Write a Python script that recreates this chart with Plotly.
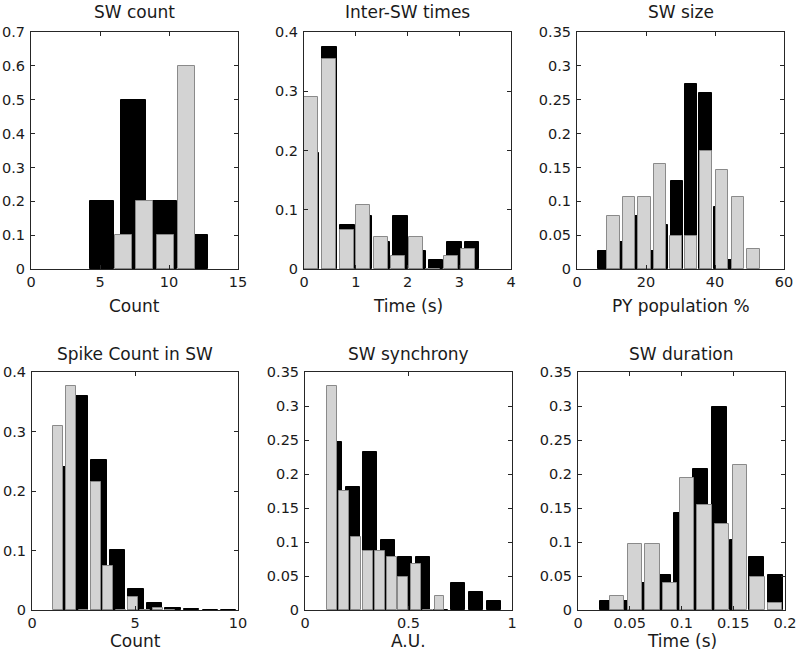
import plotly.graph_objects as go

# ---------------- data ----------------
# Panel 1: SW count
count_black_x = [5.15, 7.4, 9.65, 11.9]
count_black_y = [0.2, 0.5, 0.2, 0.1]
count_gray_x = [6.7, 8.22, 9.74, 11.26]
count_gray_y = [0.1, 0.2, 0.1, 0.6]

# Panel 2: Inter-SW times
inter_black_x = [0.15, 0.49, 0.845, 1.18, 1.52, 1.865, 2.21, 2.55, 2.905, 3.245]
inter_black_y = [0.195, 0.374, 0.074, 0.09, 0.046, 0.09, 0.03, 0.016, 0.045, 0.045]
inter_gray_x = [0.142, 0.49, 0.835, 1.14, 1.49, 1.82, 2.165, 2.5, 2.835, 3.165]
inter_gray_y = [0.29, 0.355, 0.065, 0.108, 0.054, 0.022, 0.054, 0.0, 0.022, 0.033]

# Panel 3: SW size
size_black_x = [7.9, 12.1, 16.3, 20.5, 24.7, 28.9, 33.1, 37.3, 41.5, 45.7]
size_black_y = [0.026, 0.04, 0.078, 0.026, 0.065, 0.13, 0.273, 0.26, 0.091, 0.013]
size_gray_x = [10.6, 15.0, 19.6, 24.1, 28.65, 33.0, 37.45, 42.05, 46.6, 51.15]
size_gray_y = [0.078, 0.107, 0.107, 0.155, 0.049, 0.049, 0.175, 0.146, 0.107, 0.029]

# Panel 4: Spike Count in SW
spike_black_x = [1.45, 2.35, 3.25, 4.15, 5.05, 5.95, 6.85, 7.75, 8.65, 9.55]
spike_black_y = [0.24, 0.36, 0.252, 0.101, 0.035, 0.011, 0.004, 0.0015, 0.0005, 0.0]
spike_gray_x = [1.28, 1.9, 2.5, 3.1, 3.7, 4.3, 4.9, 5.5, 6.1, 6.7]
spike_gray_y = [0.31, 0.377, 0.0, 0.215, 0.074, 0.0, 0.022, 0.0, 0.003, 0.0]

# Panel 5: SW synchrony
sync_black_x = [0.147, 0.232, 0.3145, 0.40, 0.485, 0.571, 0.656, 0.741, 0.828, 0.913]
sync_black_y = [0.247, 0.181, 0.233, 0.103, 0.078, 0.078, 0.0, 0.039, 0.026, 0.013]
sync_gray_x = [0.129, 0.1875, 0.245, 0.303, 0.361, 0.42, 0.475, 0.535, 0.593, 0.65]
sync_gray_y = [0.33, 0.175, 0.107, 0.087, 0.087, 0.078, 0.049, 0.068, 0.0, 0.02]

# Panel 6: SW duration
dur_black_x = [0.029, 0.0469, 0.0648, 0.0827, 0.1006, 0.1185, 0.1364, 0.1543, 0.1722, 0.1908]
dur_black_y = [0.013, 0.013, 0.039, 0.051, 0.142, 0.207, 0.298, 0.103, 0.078, 0.052]
dur_gray_x = [0.038, 0.0549, 0.0719, 0.0886, 0.1056, 0.1222, 0.1393, 0.1566, 0.1734, 0.1903]
dur_gray_y = [0.02, 0.097, 0.097, 0.039, 0.194, 0.155, 0.126, 0.213, 0.049, 0.01]

titles = ["SW count", "Inter-SW times", "SW size",
          "Spike Count in SW", "SW synchrony", "SW duration"]
xlabels = ["Count", "Time (s)", "PY population %",
           "Count", "A.U.", "Time (s)"]
x_ranges = [[0, 15], [0, 4], [0, 60], [0, 10], [0, 1], [0, 0.2]]
x_dticks = [5, 1, 20, 5, 0.5, 0.05]
y_ranges = [[0, 0.7], [0, 0.4], [0, 0.35], [0, 0.4], [0, 0.35], [0, 0.35]]
y_dticks = [0.1, 0.1, 0.05, 0.1, 0.05, 0.05]

# ---------------- styling / layout ----------------
W, H = 800, 655
FONT = "DejaVu Sans, Liberation Sans, Arial, sans-serif"
TXT = "#1a1a1a"
AX = "#262626"
BLACK = "#000000"
GRAY_FILL = "#d3d3d3"
GRAY_EDGE = "#8a8a8a"

series = [
    (count_black_x, count_black_y, count_gray_x, count_gray_y, 1.8, 1.2),
    (inter_black_x, inter_black_y, inter_gray_x, inter_gray_y, 0.28, 0.275),
    (size_black_x, size_black_y, size_gray_x, size_gray_y, 3.6, 3.6),
    (spike_black_x, spike_black_y, spike_gray_x, spike_gray_y, 0.74, 0.48),
    (sync_black_x, sync_black_y, sync_gray_x, sync_gray_y, 0.068, 0.047),
    (dur_black_x, dur_black_y, dur_gray_x, dur_gray_y, 0.0148, 0.0138),
]

# panel boxes in pixels: (left, right, top, bottom)
boxes = [
    (31, 238, 32, 269), (304, 511, 32, 269), (577, 784, 32, 269),
    (32, 238, 372, 610), (305, 512, 372, 610), (578, 785, 372, 610),
]

fig = go.Figure()
annotations = []
layout_axes = {}

for i, ((bx, by, gx, gy, bw, gw), (l, r, t, b)) in enumerate(zip(series, boxes)):
    n = i + 1
    xa = "x" if n == 1 else f"x{n}"
    ya = "y" if n == 1 else f"y{n}"
    fig.add_trace(go.Bar(
        x=bx, y=by, width=bw, xaxis=xa, yaxis=ya,
        marker=dict(color=BLACK, line=dict(color=BLACK, width=1)),
        showlegend=False, hoverinfo="x+y"))
    fig.add_trace(go.Bar(
        x=gx, y=gy, width=gw, xaxis=xa, yaxis=ya,
        marker=dict(color=GRAY_FILL, line=dict(color=GRAY_EDGE, width=1)),
        showlegend=False, hoverinfo="x+y"))

    xdom = [l / W, r / W]
    ydom = [1 - b / H, 1 - t / H]
    common = dict(showline=True, mirror="ticks", linecolor=AX, linewidth=1,
                  ticks="inside", ticklen=4, tickcolor=AX, tickwidth=1,
                  showgrid=False, zeroline=False, automargin=False,
                  tickfont=dict(family=FONT, size=14.5, color=TXT))
    layout_axes["xaxis" if n == 1 else f"xaxis{n}"] = dict(
        domain=xdom, anchor=ya, range=x_ranges[i], tick0=0, dtick=x_dticks[i],
        **common)
    layout_axes["yaxis" if n == 1 else f"yaxis{n}"] = dict(
        domain=ydom, anchor=xa, range=y_ranges[i], tick0=0, dtick=y_dticks[i],
        ticklabelstandoff=2, **common)

    cx = (l + r) / 2 / W
    title_off = 20 if i < 3 else 18
    annotations.append(dict(
        text=titles[i], x=cx, y=1 - (t - title_off) / H, xref="paper", yref="paper",
        xanchor="center", yanchor="middle", showarrow=False,
        font=dict(family=FONT, size=17, color=TXT)))
    label_off = 37 if i < 3 else 31
    annotations.append(dict(
        text=xlabels[i], x=cx, y=1 - (b + label_off) / H, xref="paper", yref="paper",
        xanchor="center", yanchor="middle", showarrow=False,
        font=dict(family=FONT, size=17, color=TXT)))

fig.update_layout(
    width=W, height=H, autosize=False,
    margin=dict(l=0, r=0, t=0, b=0, autoexpand=False),
    paper_bgcolor="white", plot_bgcolor="white",
    barmode="overlay", bargap=0,
    annotations=annotations,
    **layout_axes)

fig.write_html("out.html", config={"displayModeBar": False},
               post_script="document.body.style.margin='0';")
